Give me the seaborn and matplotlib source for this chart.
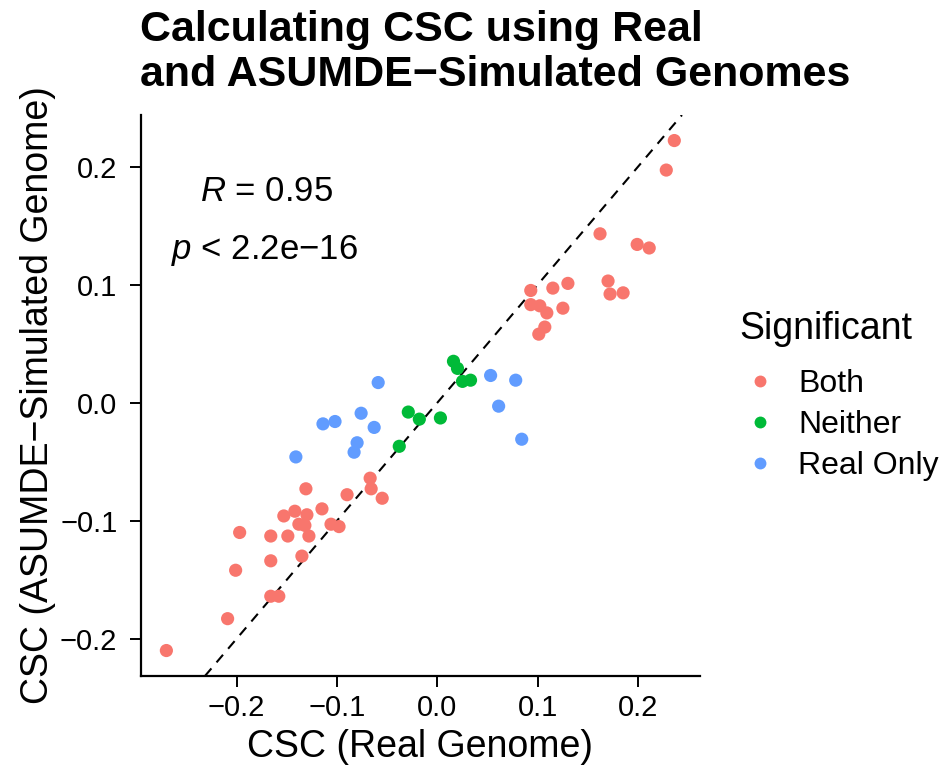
import numpy as np
import pandas as pd
import matplotlib
matplotlib.use("Agg")
import matplotlib.pyplot as plt
import seaborn as sns

# CSC values, grouped by significance class
both_real = [0.236, 0.228, 0.162, 0.199, 0.211, 0.115, 0.130, 0.093, 0.170, 0.172,
             0.185, 0.093, 0.102, 0.109, 0.125, 0.107, 0.101,
             -0.067, -0.066, -0.055, -0.090, -0.131, -0.115, -0.153, -0.142, -0.130,
             -0.138, -0.132, -0.106, -0.098, -0.197, -0.166, -0.149, -0.128, -0.166,
             -0.135, -0.201, -0.166, -0.158, -0.209, -0.270]
both_sim = [0.222, 0.197, 0.143, 0.134, 0.131, 0.097, 0.101, 0.095, 0.103, 0.092,
            0.093, 0.083, 0.082, 0.076, 0.080, 0.064, 0.058,
            -0.064, -0.073, -0.081, -0.078, -0.073, -0.090, -0.096, -0.092, -0.095,
            -0.103, -0.104, -0.103, -0.105, -0.110, -0.113, -0.113, -0.113, -0.134,
            -0.130, -0.142, -0.164, -0.164, -0.183, -0.210]

neither_real = [0.016, 0.020, 0.025, 0.033, -0.029, -0.018, 0.003, -0.038]
neither_sim = [0.035, 0.029, 0.018, 0.019, -0.008, -0.014, -0.013, -0.037]

realonly_real = [-0.059, 0.053, 0.078, 0.061, 0.084, -0.076, -0.114, -0.102,
                 -0.063, -0.080, -0.083, -0.141]
realonly_sim = [0.017, 0.023, 0.019, -0.003, -0.031, -0.009, -0.018, -0.016,
                -0.021, -0.034, -0.042, -0.046]

groups = ["Both", "Neither", "Real Only"]
colors = ["#F8766D", "#00BA38", "#619CFF"]
ticks = [-0.2, -0.1, 0.0, 0.1, 0.2]
tick_labels = ["\u22120.2", "\u22120.1", "0.0", "0.1", "0.2"]

df = pd.DataFrame({
    "real": both_real + neither_real + realonly_real,
    "sim": both_sim + neither_sim + realonly_sim,
    "Significant": ["Both"] * len(both_real) + ["Neither"] * len(neither_real)
                   + ["Real Only"] * len(realonly_real),
})

sns.set_theme(style="ticks")
plt.rcParams["font.family"] = ["Liberation Sans", "DejaVu Sans"]
plt.rcParams["mathtext.fontset"] = "custom"
plt.rcParams["mathtext.it"] = "Liberation Sans:italic"
plt.rcParams["mathtext.rm"] = "Liberation Sans"
for key in ["text.color", "axes.labelcolor", "xtick.color", "ytick.color",
            "xtick.labelcolor", "ytick.labelcolor"]:
    plt.rcParams[key] = "black"

fig = plt.figure(figsize=(9.43, 7.67), dpi=100)
ax = fig.add_axes([0.1495, 0.1186, 0.5925, 0.7314])

ax.axline((0, 0), slope=1, color="black", lw=1.5, dashes=(4.8, 3.8), zorder=1)
sns.scatterplot(data=df, x="real", y="sim", hue="Significant", hue_order=groups,
                palette=colors, s=90, edgecolor="none", ax=ax, zorder=2)

# ggplot-style 5% expansion
xr = df["real"].max() - df["real"].min()
yr = df["sim"].max() - df["sim"].min()
ax.set_xlim(df["real"].min() - 0.05 * xr, df["real"].max() + 0.05 * xr)
ax.set_ylim(df["sim"].min() - 0.05 * yr, df["sim"].max() + 0.05 * yr)

ax.set_xticks(ticks)
ax.set_yticks(ticks)
ax.set_xticklabels(tick_labels)
ax.set_yticklabels(tick_labels)
ax.tick_params(axis="both", labelsize=21, length=8, width=1.4)
ax.tick_params(axis="x", pad=5)
ax.tick_params(axis="y", pad=9)
for side in ["top", "right"]:
    ax.spines[side].set_visible(False)
for side in ["left", "bottom"]:
    ax.spines[side].set_linewidth(1.6)
    ax.spines[side].set_color("black")

ax.set_xlabel("CSC (Real Genome)", fontsize=27, labelpad=5)
ax.set_ylabel("CSC (ASUMDE\u2212Simulated Genome)", fontsize=27, labelpad=3)

fig.text(0.1485, 0.987, "Calculating CSC using Real\nand ASUMDE\u2212Simulated Genomes",
         fontsize=31, fontweight="bold", ha="left", va="top", linespacing=1.15)

ax.text(0.224, 0.863, r"$\mathit{R}$ = 0.95", transform=ax.transAxes,
        fontsize=25, ha="center", va="center")
ax.text(0.221, 0.759, r"$\mathit{p}$ < 2.2e" + "\u2212" + "16", transform=ax.transAxes,
        fontsize=25, ha="center", va="center")

leg = ax.legend(title="Significant", loc="upper left",
                bbox_to_anchor=(739 / 943, 1 - 311 / 767), bbox_transform=fig.transFigure,
                frameon=False, fontsize=23, title_fontsize=27, markerscale=0.9,
                handlelength=1.3, handletextpad=0.55, labelspacing=0.34,
                borderpad=0, borderaxespad=0)
leg._legend_box.align = "left"
leg._legend_box.sep = 16

fig.savefig("out.png", dpi=100)
